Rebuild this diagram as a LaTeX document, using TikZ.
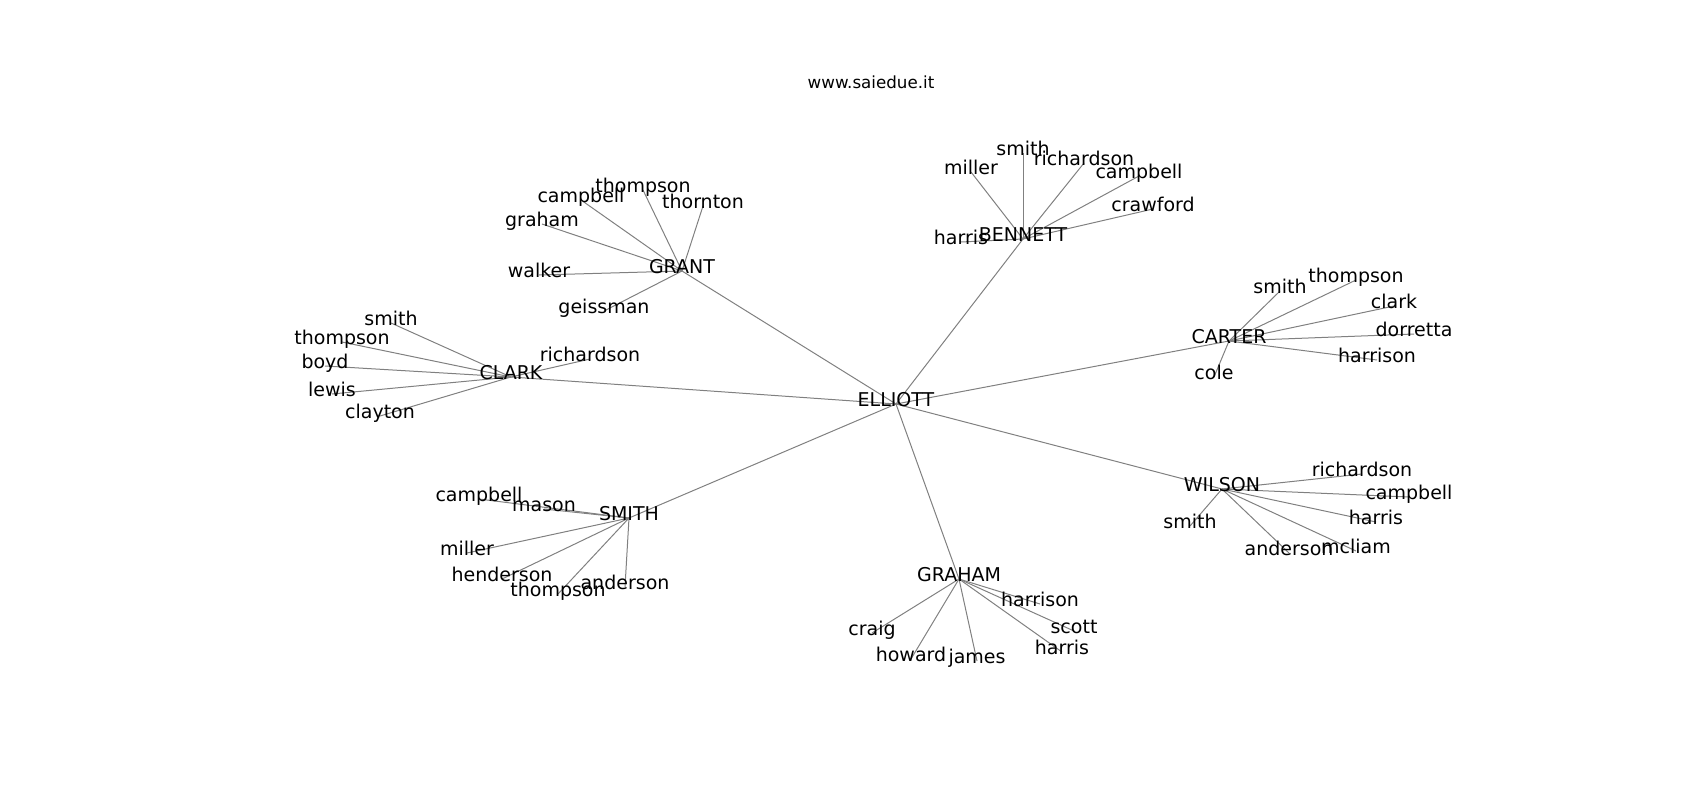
\documentclass[tikz,border=0pt]{standalone}
\usepackage{fontspec}
\setmainfont{DejaVu Sans}
\usetikzlibrary{backgrounds}
\begin{document}
\begin{tikzpicture}[x=1pt,y=-1pt,
        person/.style={font=\fontsize{19}{23}\selectfont,inner sep=0pt,
            text height=0.76em,text depth=0.24em},
        link/.style={draw=gray,line width=1pt}]
        \useasboundingbox (0,0) rectangle (1700,800);
        %% Title
        \node[font=\fontsize{16.7}{20}\selectfont] (title) at (871,82) {www.saiedue.it};
        \begin{scope}[shift={(-1,4)}]
        %% Centre
        \node[person] (elliott) at (897,400) {ELLIOTT};
        %% Bennett
        \node[person] (bennett) at (1024,235) {BENNETT};
        \node[person] (bn-harris) at (962,238) {harris};
        \node[person] (bn-miller) at (972,168) {miller};
        \node[person] (bn-smith) at (1024,149) {smith};
        \node[person] (bn-richardson) at (1085,159) {richardson};
        \node[person] (bn-campbell) at (1140,172) {campbell};
        \node[person] (bn-crawford) at (1154,205) {crawford};
        %% Grant
        \node[person] (grant) at (683,267) {GRANT};
        \node[person] (gr-thompson) at (644,186) {thompson};
        \node[person] (gr-campbell) at (582,196) {campbell};
        \node[person] (gr-thornton) at (704,202) {thornton};
        \node[person] (gr-graham) at (543,220) {graham};
        \node[person] (gr-walker) at (540,271) {walker};
        \node[person] (gr-geissman) at (605,307) {geissman};
        %% Clark
        \node[person] (clark) at (512,373) {CLARK};
        \node[person] (cl-smith) at (392,319) {smith};
        \node[person] (cl-thompson) at (343,338) {thompson};
        \node[person] (cl-boyd) at (326,362) {boyd};
        \node[person] (cl-lewis) at (333,390) {lewis};
        \node[person] (cl-clayton) at (381,412) {clayton};
        \node[person] (cl-richardson) at (591,355) {richardson};
        %% Smith
        \node[person] (smith) at (630,514) {SMITH};
        \node[person] (sm-campbell) at (480,495) {campbell};
        \node[person] (sm-mason) at (545,505) {mason};
        \node[person] (sm-miller) at (468,549) {miller};
        \node[person] (sm-henderson) at (503,575) {henderson};
        \node[person] (sm-thompson) at (559,590) {thompson};
        \node[person] (sm-anderson) at (626,583) {anderson};
        %% Carter
        \node[person] (carter) at (1230,337) {CARTER};
        \node[person] (ca-smith) at (1281,287) {smith};
        \node[person] (ca-thompson) at (1357,276) {thompson};
        \node[person] (ca-clark) at (1395,302) {clark};
        \node[person] (ca-dorretta) at (1415,330) {dorretta};
        \node[person] (ca-harrison) at (1378,356) {harrison};
        \node[person] (ca-cole) at (1215,373) {cole};
        %% Wilson
        \node[person] (wilson) at (1223,485) {WILSON};
        \node[person] (wi-richardson) at (1363,470) {richardson};
        \node[person] (wi-campbell) at (1410,493) {campbell};
        \node[person] (wi-harris) at (1377,518) {harris};
        \node[person] (wi-mcliam) at (1357,547) {mcliam};
        \node[person] (wi-anderson) at (1290,549) {anderson};
        \node[person] (wi-smith) at (1191,522) {smith};
        %% Graham
        \node[person] (graham) at (960,575) {GRAHAM};
        \node[person] (gh-harrison) at (1041,600) {harrison};
        \node[person] (gh-scott) at (1075,627) {scott};
        \node[person] (gh-harris) at (1063,648) {harris};
        \node[person] (gh-craig) at (873,629) {craig};
        \node[person] (gh-howard) at (912,655) {howard};
        \node[person] (gh-james) at (978,657) {james};
        \end{scope}
        \begin{scope}[on background layer]
            %% Centre to families
            \draw[link] (elliott.center) -- (bennett.center);
            \draw[link] (elliott.center) -- (grant.center);
            \draw[link] (elliott.center) -- (clark.center);
            \draw[link] (elliott.center) -- (smith.center);
            \draw[link] (elliott.center) -- (carter.center);
            \draw[link] (elliott.center) -- (wilson.center);
            \draw[link] (elliott.center) -- (graham.center);
            %% Bennett
            \draw[link] (bennett.center) -- (bn-harris.center);
            \draw[link] (bennett.center) -- (bn-miller.center);
            \draw[link] (bennett.center) -- (bn-smith.center);
            \draw[link] (bennett.center) -- (bn-richardson.center);
            \draw[link] (bennett.center) -- (bn-campbell.center);
            \draw[link] (bennett.center) -- (bn-crawford.center);
            %% Grant
            \draw[link] (grant.center) -- (gr-thompson.center);
            \draw[link] (grant.center) -- (gr-campbell.center);
            \draw[link] (grant.center) -- (gr-thornton.center);
            \draw[link] (grant.center) -- (gr-graham.center);
            \draw[link] (grant.center) -- (gr-walker.center);
            \draw[link] (grant.center) -- (gr-geissman.center);
            %% Clark
            \draw[link] (clark.center) -- (cl-smith.center);
            \draw[link] (clark.center) -- (cl-thompson.center);
            \draw[link] (clark.center) -- (cl-boyd.center);
            \draw[link] (clark.center) -- (cl-lewis.center);
            \draw[link] (clark.center) -- (cl-clayton.center);
            \draw[link] (clark.center) -- (cl-richardson.center);
            %% Smith
            \draw[link] (smith.center) -- (sm-campbell.center);
            \draw[link] (smith.center) -- (sm-mason.center);
            \draw[link] (smith.center) -- (sm-miller.center);
            \draw[link] (smith.center) -- (sm-henderson.center);
            \draw[link] (smith.center) -- (sm-thompson.center);
            \draw[link] (smith.center) -- (sm-anderson.center);
            %% Carter
            \draw[link] (carter.center) -- (ca-smith.center);
            \draw[link] (carter.center) -- (ca-thompson.center);
            \draw[link] (carter.center) -- (ca-clark.center);
            \draw[link] (carter.center) -- (ca-dorretta.center);
            \draw[link] (carter.center) -- (ca-harrison.center);
            \draw[link] (carter.center) -- (ca-cole.center);
            %% Wilson
            \draw[link] (wilson.center) -- (wi-richardson.center);
            \draw[link] (wilson.center) -- (wi-campbell.center);
            \draw[link] (wilson.center) -- (wi-harris.center);
            \draw[link] (wilson.center) -- (wi-mcliam.center);
            \draw[link] (wilson.center) -- (wi-anderson.center);
            \draw[link] (wilson.center) -- (wi-smith.center);
            %% Graham
            \draw[link] (graham.center) -- (gh-harrison.center);
            \draw[link] (graham.center) -- (gh-scott.center);
            \draw[link] (graham.center) -- (gh-harris.center);
            \draw[link] (graham.center) -- (gh-craig.center);
            \draw[link] (graham.center) -- (gh-howard.center);
            \draw[link] (graham.center) -- (gh-james.center);
        \end{scope}
    \end{tikzpicture}
\end{document}
